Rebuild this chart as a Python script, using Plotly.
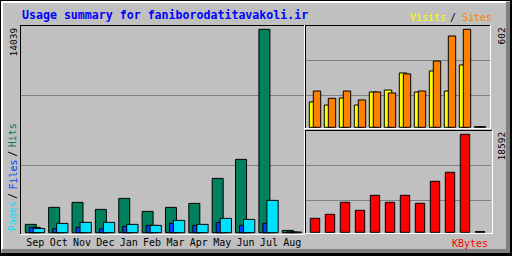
import plotly.graph_objects as go

# ---------------- data ----------------
months = ["Sep", "Oct", "Nov", "Dec", "Jan", "Feb", "Mar", "Apr", "May", "Jun", "Jul", "Aug"]
hits   = [575, 1748, 2093, 1610, 2369, 1472, 1748, 2024, 3749, 5060, 14039, 160]
files  = [368, 276, 368, 276, 437, 506, 644, 506, 713, 506, 644, 50]
pages  = [299, 644, 713, 713, 575, 506, 851, 575, 989, 920, 2231, 50]
visits = [156, 137, 180, 137, 217, 229, 334, 217, 346, 223, 383, 4]
sites  = [223, 178, 223, 168, 217, 211, 328, 223, 407, 561, 602, 4]
kbytes = [2656, 3415, 5691, 4174, 7019, 5691, 7019, 5501, 9675, 11384, 18592, 150]

# ---------------- layout helpers (pixel geometry) ----------------
W, H = 512, 256
def px(x): return x / W
def py(y): return 1 - y / H

BG = "#c0c0c0"
DK = "#808080"
C_HIT, C_FILE, C_PAGE = "#00805c", "#0040ff", "#00e0ff"
C_VIS, C_SITE, C_KB = "#ffff00", "#ff8000", "#ff0000"
MONO = "DejaVu Sans Mono"

xi = list(range(len(months)))

# left panel geometry
L_X0, L_X1, L_Y0, L_Y1 = 20, 305, 25, 235
L_SLOT, L_FIRST = 23.36, 25.3
L_BASE, L_TOP = 232.7, 29.3
# right panels
R_X0, R_X1 = 305, 491
R_SLOT, R_FIRST = 15.0, 309.3
T_Y0, T_Y1, T_BASE, T_TOP = 25, 129, 127.3, 29.3
B_Y0, B_Y1, B_BASE, B_TOP = 130, 234, 232.3, 134.3

def yrange(maxv, y0, y1, base, top):
    k = maxv / (base - top)
    return [-(y1 - base) * k, (base - y0) * k]

hmax = max(hits + files + pages)
vmax = max(visits + sites)
kmax = max(kbytes)

fig = go.Figure()
line = dict(color="black", width=1)

def lw(p): return p / L_SLOT
def rw(p): return p / R_SLOT

fig.add_trace(go.Bar(x=xi, y=hits, offset=0, width=lw(11), marker=dict(color=C_HIT, line=line),
                     xaxis="x", yaxis="y"))
fig.add_trace(go.Bar(x=xi, y=files, offset=lw(4), width=lw(11), marker=dict(color=C_FILE, line=line),
                     xaxis="x", yaxis="y"))
fig.add_trace(go.Bar(x=xi, y=pages, offset=lw(8), width=lw(11.3), marker=dict(color=C_PAGE, line=line),
                     xaxis="x", yaxis="y"))
fig.add_trace(go.Bar(x=xi, y=visits, offset=0, width=rw(7.4), marker=dict(color=C_VIS, line=line),
                     xaxis="x2", yaxis="y2"))
fig.add_trace(go.Bar(x=xi, y=sites, offset=rw(4), width=rw(7.4), marker=dict(color=C_SITE, line=line),
                     xaxis="x2", yaxis="y2"))
fig.add_trace(go.Bar(x=xi, y=kbytes, offset=rw(1), width=rw(9.4), marker=dict(color=C_KB, line=line),
                     xaxis="x3", yaxis="y3"))

hide = dict(showgrid=False, zeroline=False, showline=False, showticklabels=False, ticks="", fixedrange=True)

fig.update_layout(
    width=W, height=H, margin=dict(l=0, r=0, t=0, b=0),
    paper_bgcolor=BG, plot_bgcolor=BG, showlegend=False, barmode="overlay",
    xaxis=dict(domain=[px(L_X0), px(L_X1)],
               range=[(L_X0 - L_FIRST) / L_SLOT, (L_X1 - L_FIRST) / L_SLOT],
               showgrid=False, zeroline=False, showline=False, ticks="",
               tickvals=[i + 10 / L_SLOT for i in xi], ticktext=months,
               tickfont=dict(family=MONO, size=10, color="black"), tickangle=0),
    yaxis=dict(domain=[py(L_Y1), py(L_Y0)], range=yrange(hmax, L_Y0, L_Y1, L_BASE, L_TOP), **hide),
    xaxis2=dict(domain=[px(R_X0), px(R_X1)],
                range=[(R_X0 - R_FIRST) / R_SLOT, (R_X1 - R_FIRST) / R_SLOT], anchor="y2", **hide),
    yaxis2=dict(domain=[py(T_Y1), py(T_Y0)], range=yrange(vmax, T_Y0, T_Y1, T_BASE, T_TOP),
                anchor="x2", **hide),
    xaxis3=dict(domain=[px(R_X0), px(R_X1)],
                range=[(R_X0 - R_FIRST) / R_SLOT, (R_X1 - R_FIRST) / R_SLOT], anchor="y3", **hide),
    yaxis3=dict(domain=[py(B_Y1), py(B_Y0)], range=yrange(kmax, B_Y0, B_Y1, B_BASE, B_TOP),
                anchor="x3", **hide),
)

shapes = []
def hl(y, x0, x1, c):
    shapes.append(dict(type="line", xref="paper", yref="paper", x0=px(x0), x1=px(x1),
                       y0=py(y), y1=py(y), line=dict(color=c, width=1), layer="below"))
def vl(x, y0, y1, c):
    shapes.append(dict(type="line", xref="paper", yref="paper", x0=px(x), x1=px(x),
                       y0=py(y0), y1=py(y1), line=dict(color=c, width=1), layer="below"))
def rect(x0, y0, x1, y1, c):
    shapes.append(dict(type="rect", xref="paper", yref="paper", x0=px(x0), x1=px(x1),
                       y0=py(y1), y1=py(y0), fillcolor=c, line=dict(width=0), layer="below"))

# outer bevel
rect(506, 2, 510, 253, DK)
rect(2, 249, 510, 253, DK)
rect(510, 0, 512, 256, "black")
rect(0, 253, 512, 256, "black")
hl(0.5, 0, 512, "black"); vl(0.5, 0, 256, "black")
rect(1, 1, 506, 3, "white"); rect(1, 1, 3, 249, "white")

# grid lines
hl(95.5, L_X0, L_X1, DK); hl(165.5, L_X0, L_X1, DK)
hl(60.5, R_X0, R_X1, DK); hl(95.5, R_X0, R_X1, DK)
hl(165.5, R_X0, R_X1, DK); hl(200.5, R_X0, R_X1, DK)

# panel frames
hl(25.5, L_X0, L_X1, "black"); vl(20.5, 25, 235, "black")
hl(234.5, L_X0, L_X1, "white"); vl(304.5, 25, 235, "white")
hl(25.5, R_X0, 491, "black"); vl(305.5, 25, 129, "black")
hl(128.5, R_X0, 491, "white"); vl(490.5, 25, 129, "white")
hl(130.5, R_X0, 493, "black"); vl(305.5, 130, 234, "black")
hl(233.5, R_X0, 493, "white"); vl(492.5, 130, 234, "white")
fig.update_layout(shapes=shapes)

ann = []
def text(t, x, y, color, size=10, xa="center", ya="middle", angle=0, bold=False):
    ann.append(dict(text=(f"<b>{t}</b>" if bold else t), x=px(x), y=py(y), xref="paper", yref="paper",
                    xanchor=xa, yanchor=ya, showarrow=False, textangle=angle,
                    font=dict(family=MONO, size=size, color=color)))

text("Usage summary for faniborodatitavakoli.ir", 20, 15, "#0000ff", size=11.6, xa="left", bold=True)
text("Visits", 448, 17, C_VIS, xa="right")
text("/", 453.3, 17, "black")
text("Sites", 460, 17, C_SITE, xa="left")
text("KBytes", 490, 243, C_KB, xa="right")
text(str(max(hits)), 13, 42.5, "black", size=9.5, angle=-90)
text(str(vmax), 500.5, 36, "black", size=9.5, angle=-90)
text(str(kmax), 500.5, 146, "black", size=9.5, angle=-90)
text("Hits", 12.5, 135.8, C_HIT, angle=-90)
text("/", 12.5, 154.2, "black", angle=-90)
text("Files", 12.5, 175, C_FILE, angle=-90)
text("/", 12.5, 196.5, "black", angle=-90)
text("Pages", 12.5, 216.7, C_PAGE, angle=-90)
fig.update_layout(annotations=ann)

fig.write_html("out.html")
